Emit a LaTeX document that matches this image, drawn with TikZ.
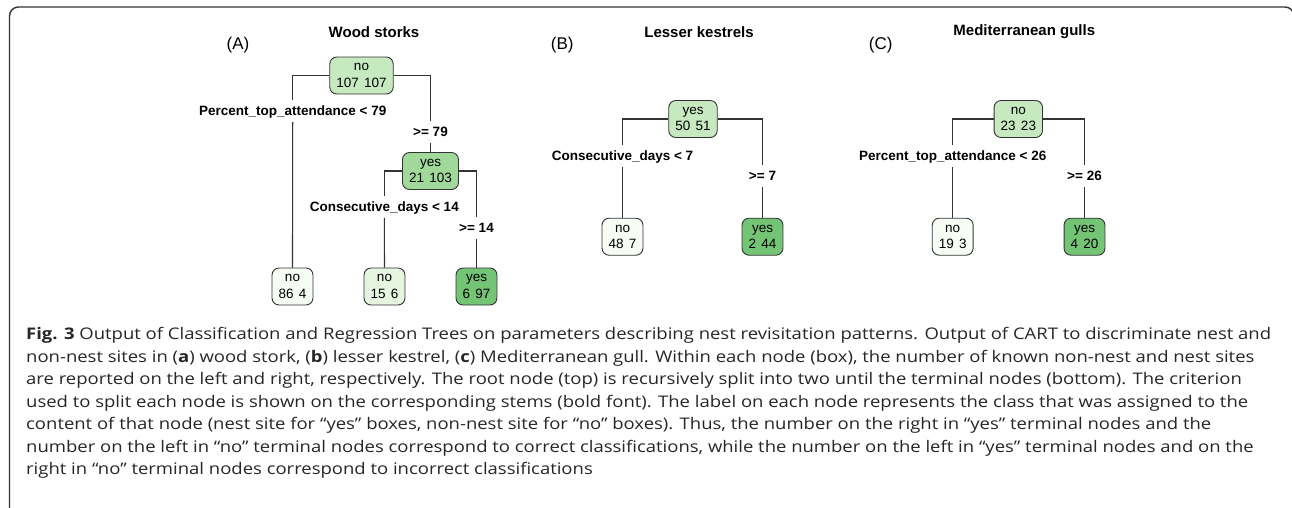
\documentclass[tikz,border=0pt]{standalone}
\usepackage{fontspec}
\setmainfont{Open Sans}[FakeStretch=1.155]
\newfontfamily\treefont{Liberation Sans}
\usetikzlibrary{positioning}

\definecolor{edgegray}{HTML}{333333}
\definecolor{captext}{HTML}{262626}
\definecolor{grnA}{HTML}{F7FCF5}
\definecolor{grnB}{HTML}{E5F5E0}
\definecolor{grnC}{HTML}{C7E9C0}
\definecolor{grnD}{HTML}{A1D99B}
\definecolor{grnE}{HTML}{74C476}

\tikzset{
  box/.style={draw=edgegray, line width=0.9pt, rounded corners=7pt, align=center,
    font=\treefont\fontsize{13.5}{16.5}\selectfont, inner xsep=6.5pt, inner ysep=0pt,
    minimum height=37pt},
  splitlabel/.style={font=\treefont\bfseries\fontsize{13.5}{15}\selectfont, inner xsep=0pt,
    inner ysep=5.5pt, text height=10pt, text depth=1pt},
  panel/.style={font=\treefont\fontsize{17}{19}\selectfont, inner sep=0pt},
  species/.style={font=\treefont\bfseries\fontsize{15}{17}\selectfont, inner sep=0pt},
  capline/.style={anchor=base west, inner sep=0pt, text=captext,
    font=\fontsize{16}{18}\selectfont},
  stem/.style={draw=edgegray, line width=1.1pt}
}
\newcommand{\gap}{\hspace{0.4em}}

\begin{document}
\begin{tikzpicture}[x=1pt,y=-1pt]

\useasboundingbox (0,0) rectangle (1292,507);

% outer frame, open at the bottom and right
\draw[line width=1.4pt, rounded corners=9pt, edgegray] (1294,40) -- (1294,7) -- (9.5,7) -- (9.5,520);

% panel A
\node[panel] (labA) at (238,45) {(A)};
\node[species] (titA) at (374,32) {Wood storks};
\node[box, fill=grnC] (rootA) at (361.5,75.5) {no\\107\gap 107};
\node[splitlabel] (lsA) at (292.7,111) {Percent\_top\_attendance < 79};
\node[splitlabel] (rsA) at (430.5,132) {>= 79};
\node[box, fill=grnD] (midA) at (430.5,171) {yes\\21\gap 103};
\node[splitlabel] (lsA2) at (384.3,206.7) {Consecutive\_days < 14};
\node[splitlabel] (rsA2) at (476.5,227.7) {>= 14};
\node[box, fill=grnA] (leafA1) at (292.5,286.5) {no\\86\gap 4};
\node[box, fill=grnB] (leafA2) at (384.5,286.5) {no\\15\gap 6};
\node[box, fill=grnE] (leafA3) at (476.5,286.5) {yes\\6\gap 97};

% panel B
\node[panel] (labB) at (562.3,45) {(B)};
\node[species] (titB) at (699,31.7) {Lesser kestrels};
\node[box, fill=grnC] (rootB) at (693,119) {yes\\50\gap 51};
\node[splitlabel] (lsB) at (622.5,155.7) {Consecutive\_days < 7};
\node[splitlabel] (rsB) at (762.5,176) {>= 7};
\node[box, fill=grnA] (leafB1) at (622.5,236.7) {no\\48\gap 7};
\node[box, fill=grnE] (leafB2) at (762.5,236.7) {yes\\2\gap 44};

% panel C
\node[panel] (labC) at (880.7,45) {(C)};
\node[species] (titC) at (1024.3,31.7) {Mediterranean gulls};
\node[box, fill=grnC] (rootC) at (1018.3,119) {no\\23\gap 23};
\node[splitlabel] (lsC) at (952.7,155.7) {Percent\_top\_attendance < 26};
\node[splitlabel] (rsC) at (1084.5,176) {>= 26};
\node[box, fill=grnA] (leafC1) at (952.7,236.7) {no\\19\gap 3};
\node[box, fill=grnE] (leafC2) at (1084.5,236.7) {yes\\4\gap 20};

% stems
\foreach \a/\b in {rootA/lsA, midA/lsA2, rootB/lsB, rootC/lsC}
  {\draw[stem] (\a.west) -| (\b.north);}
\foreach \a/\b in {rootA/rsA, midA/rsA2, rootB/rsB, rootC/rsC}
  {\draw[stem] (\a.east) -| (\b.north);}
\foreach \a/\b in {lsA/leafA1, rsA/midA, lsA2/leafA2, rsA2/leafA3, lsB/leafB1, rsB/leafB2, lsC/leafC1, rsC/leafC2}
  {\draw[stem] (\a.south) -- (\b.north);}

% caption
\node[capline] (cap1) at (26,339.5) {\textbf{Fig. 3} Output of Classification and Regression Trees on parameters describing nest revisitation patterns. Output of CART to discriminate nest and};
\node[capline] (cap2) at (26,362) {non-nest sites in (\textbf{a}) wood stork, (\textbf{b}) lesser kestrel, (\textbf{c}) Mediterranean gull. Within each node (box), the number of known non-nest and nest sites};
\node[capline] (cap3) at (26,384.5) {are reported on the left and right, respectively. The root node (top) is recursively split into two until the terminal nodes (bottom). The criterion};
\node[capline] (cap4) at (26,407) {used to split each node is shown on the corresponding stems (bold font). The label on each node represents the class that was assigned to the};
\node[capline] (cap5) at (26,429.5) {content of that node (nest site for “yes” boxes, non-nest site for “no” boxes). Thus, the number on the right in “yes” terminal nodes and the};
\node[capline] (cap6) at (26,452) {number on the left in “no” terminal nodes correspond to correct classifications, while the number on the left in “yes” terminal nodes and on the};
\node[capline] (cap7) at (26,474.5) {right in “no” terminal nodes correspond to incorrect classifications};

\end{tikzpicture}
\end{document}
